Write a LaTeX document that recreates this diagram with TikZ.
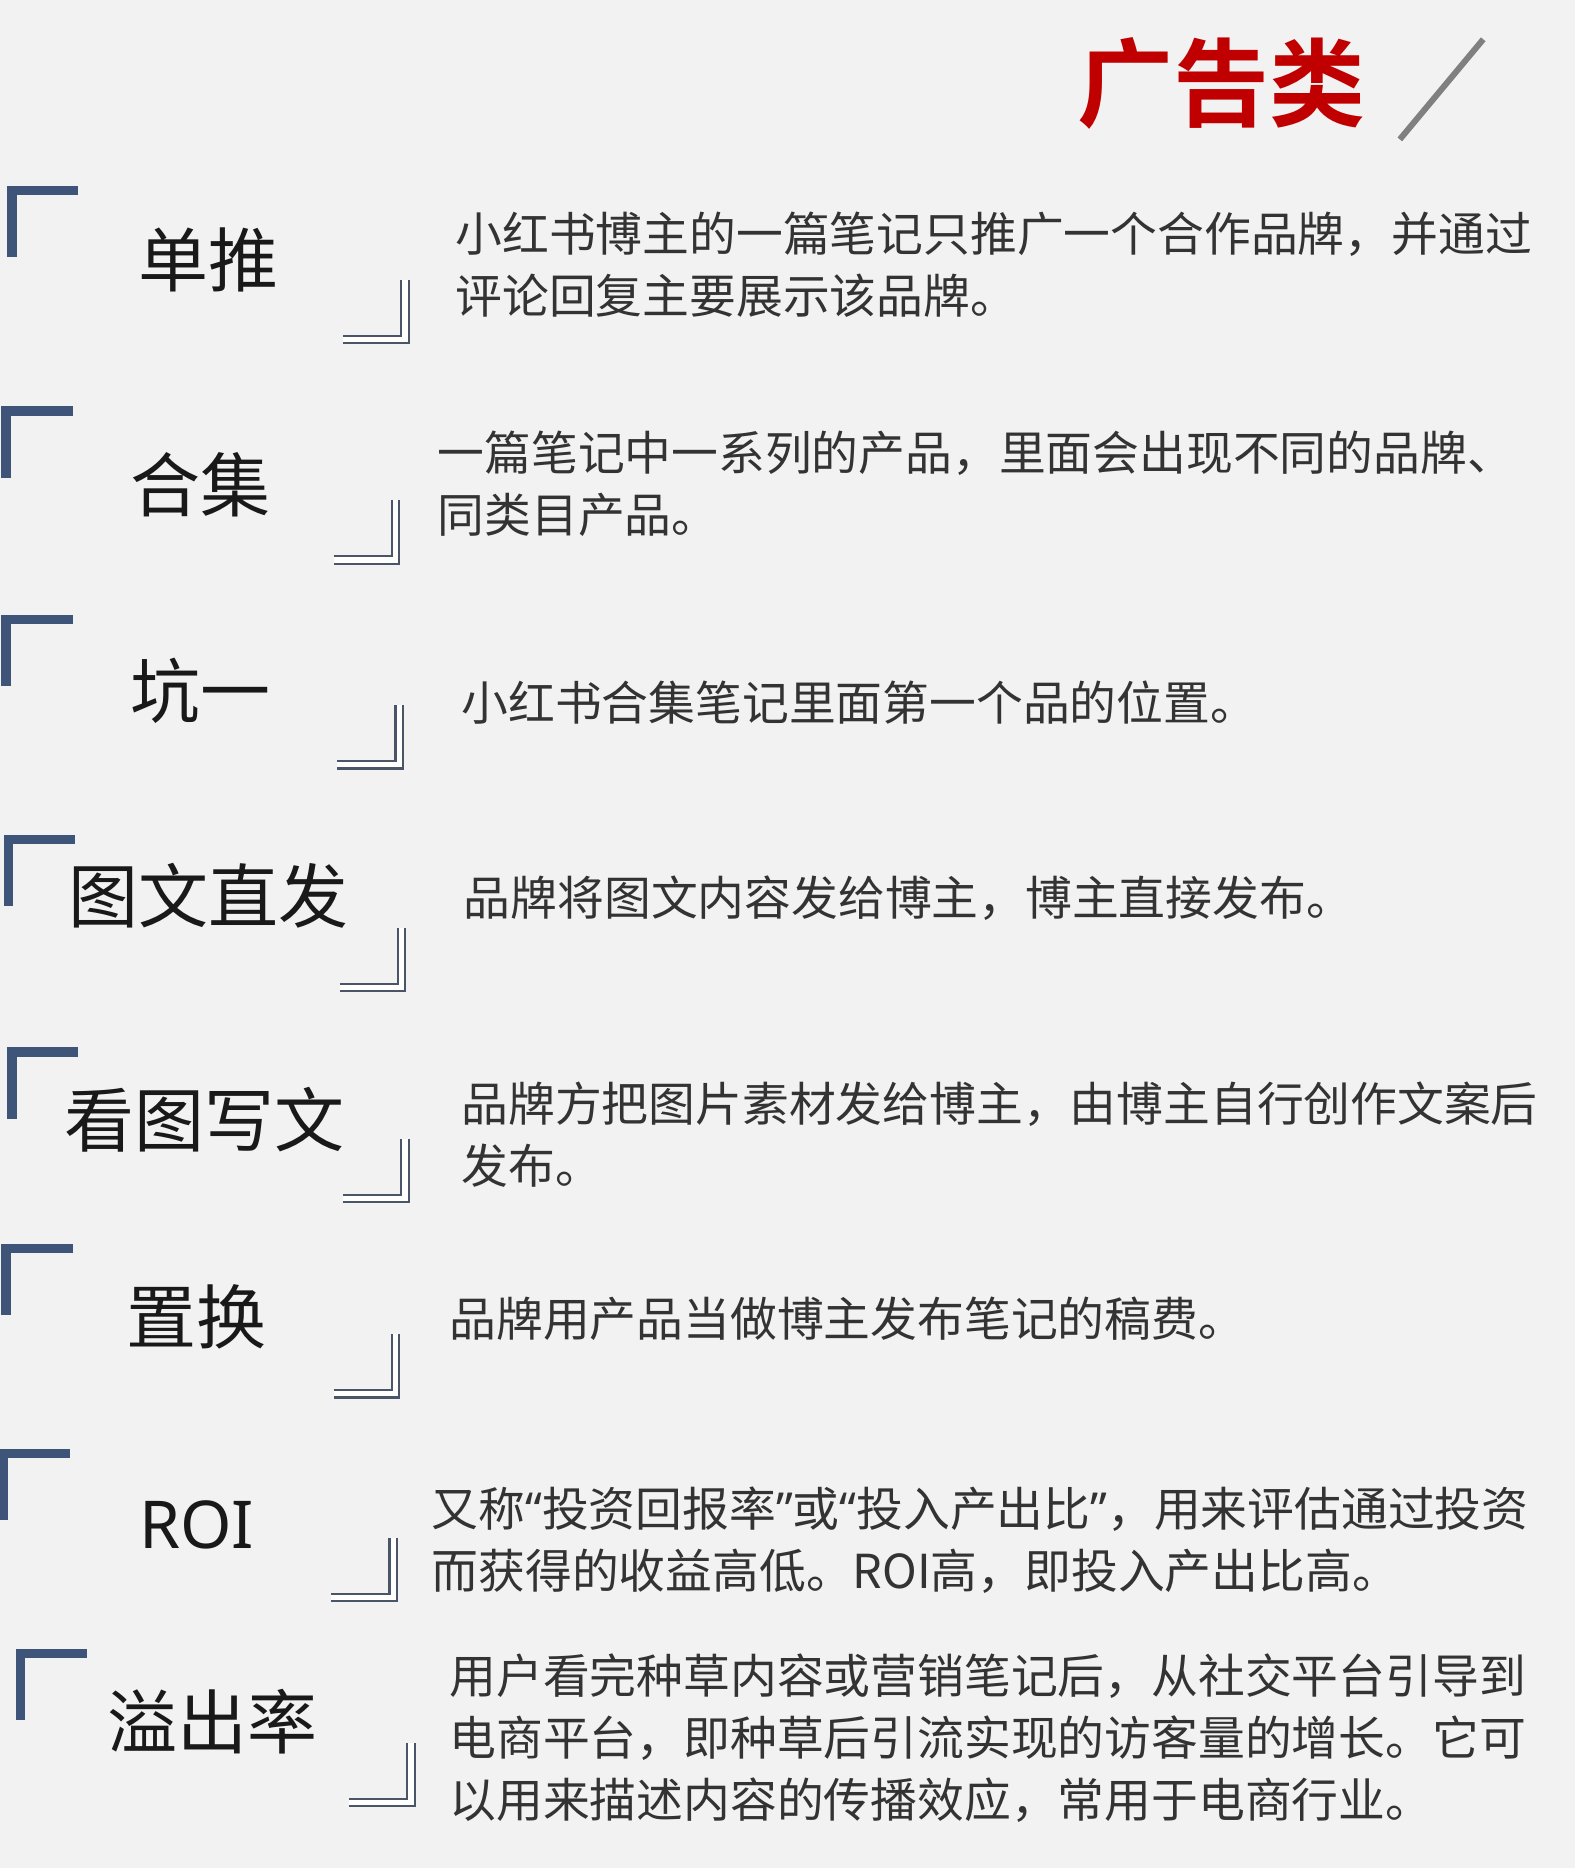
\documentclass[tikz,border=0pt]{standalone}
\usepackage{fontspec}
\newfontfamily\cjk{Noto Sans CJK SC}
\newfontfamily\cjkb{Noto Sans CJK SC Bold}
\newfontfamily\latq{Noto Sans}
\newcommand{\myLq}{{\latq “}}
\newcommand{\myRq}{{\latq ”}}
\definecolor{bg}{HTML}{F2F2F2}
\definecolor{brk}{HTML}{3E5478}
\definecolor{brk2}{HTML}{4A5668}
\definecolor{ttl}{HTML}{C00000}
\definecolor{txt}{HTML}{333333}
\tikzset{
 term/.style={font=\cjk\fontsize{35pt}{40pt}\selectfont, text=black!90, inner sep=0pt},
 desc/.style={font=\cjk\fontsize{23.4pt}{31pt}\selectfont, text=txt, align=left, anchor=north west, inner sep=0pt},
 tlb/.style={draw=brk, line width=4.6pt, line cap=rect},
 brb/.style={draw=brk2, double=white, line width=1.1pt, double distance=2.6pt}
}
\begin{document}
\begin{tikzpicture}[x=0.5957pt,y=-0.5957pt]
\fill[bg] (0,0) rectangle (1322,1568);
\useasboundingbox (0,0) rectangle (1322,1568);
\node[font=\cjkb\fontsize{48pt}{50pt}\selectfont, text=ttl, inner sep=0pt] (title) at (1025,70) {广告类};
\draw[gray, line width=3pt] (1175,117) -- (1245,33);
% row 1
\draw[tlb] (10,212) -- (10,160) -- (62,160);
\draw[brb] (288,285) -- (340,285) -- (340,235);
\node[term] (t1) at (175,218) {单推};
\node[desc] (d1) at (382,178) {小红书博主的一篇笔记只推广一个合作品牌，并通过\\评论回复主要展示该品牌。};
% row 2
\draw[tlb] (5,397) -- (5,345) -- (57,345);
\draw[brb] (280,470) -- (332,470) -- (332,420);
\node[term] (t2) at (168,407) {合集};
\node[desc] (d2) at (367,361) {一篇笔记中一系列的产品，里面会出现不同的品牌、\\同类目产品。};
% row 3
\draw[tlb] (5,572) -- (5,520) -- (57,520);
\draw[brb] (283,642) -- (335,642) -- (335,592);
\node[term] (t3) at (168,580) {坑一};
\node[desc] (d3) at (387,571) {小红书合集笔记里面第一个品的位置。};
% row 4
\draw[tlb] (7,757) -- (7,705) -- (59,705);
\draw[brb] (285,829) -- (337,829) -- (337,779);
\node[term] (t4) at (175,752) {图文直发};
\node[desc] (d4) at (389,735) {品牌将图文内容发给博主，博主直接发布。};
% row 5
\draw[tlb] (10,935) -- (10,883) -- (62,883);
\draw[brb] (288,1006) -- (340,1006) -- (340,956);
\node[term] (t5) at (172,940) {看图写文};
\node[desc] (d5) at (387,908) {品牌方把图片素材发给博主，由博主自行创作文案后\\发布。};
% row 6
\draw[tlb] (5,1100) -- (5,1048) -- (57,1048);
\draw[brb] (280,1170) -- (332,1170) -- (332,1120);
\node[term] (t6) at (165,1105) {置换};
\node[desc] (d6) at (377,1088) {品牌用产品当做博主发布笔记的稿费。};
% row 7
\draw[tlb] (3,1272) -- (3,1220) -- (55,1220);
\draw[brb] (278,1341) -- (330,1341) -- (330,1291);
\node[term, font=\fontspec{Noto Sans}\fontsize{33pt}{40pt}\selectfont] (t7) at (165,1280) {ROI};
\node[desc] (d7) at (362,1248) {又称\myLq 投资回报率\myRq 或\myLq 投入产出比\myRq ，用来评估通过投资\\而获得的收益高低。ROI高，即投入产出比高。};
% row 8
\draw[tlb] (17,1440) -- (17,1388) -- (69,1388);
\draw[brb] (293,1513) -- (345,1513) -- (345,1463);
\node[term] (t8) at (178,1445) {溢出率};
\node[desc] (d8) at (377,1388) {用户看完种草内容或营销笔记后，从社交平台引导到\\电商平台，即种草后引流实现的访客量的增长。它可\\以用来描述内容的传播效应，常用于电商行业。};
\end{tikzpicture}
\end{document}
